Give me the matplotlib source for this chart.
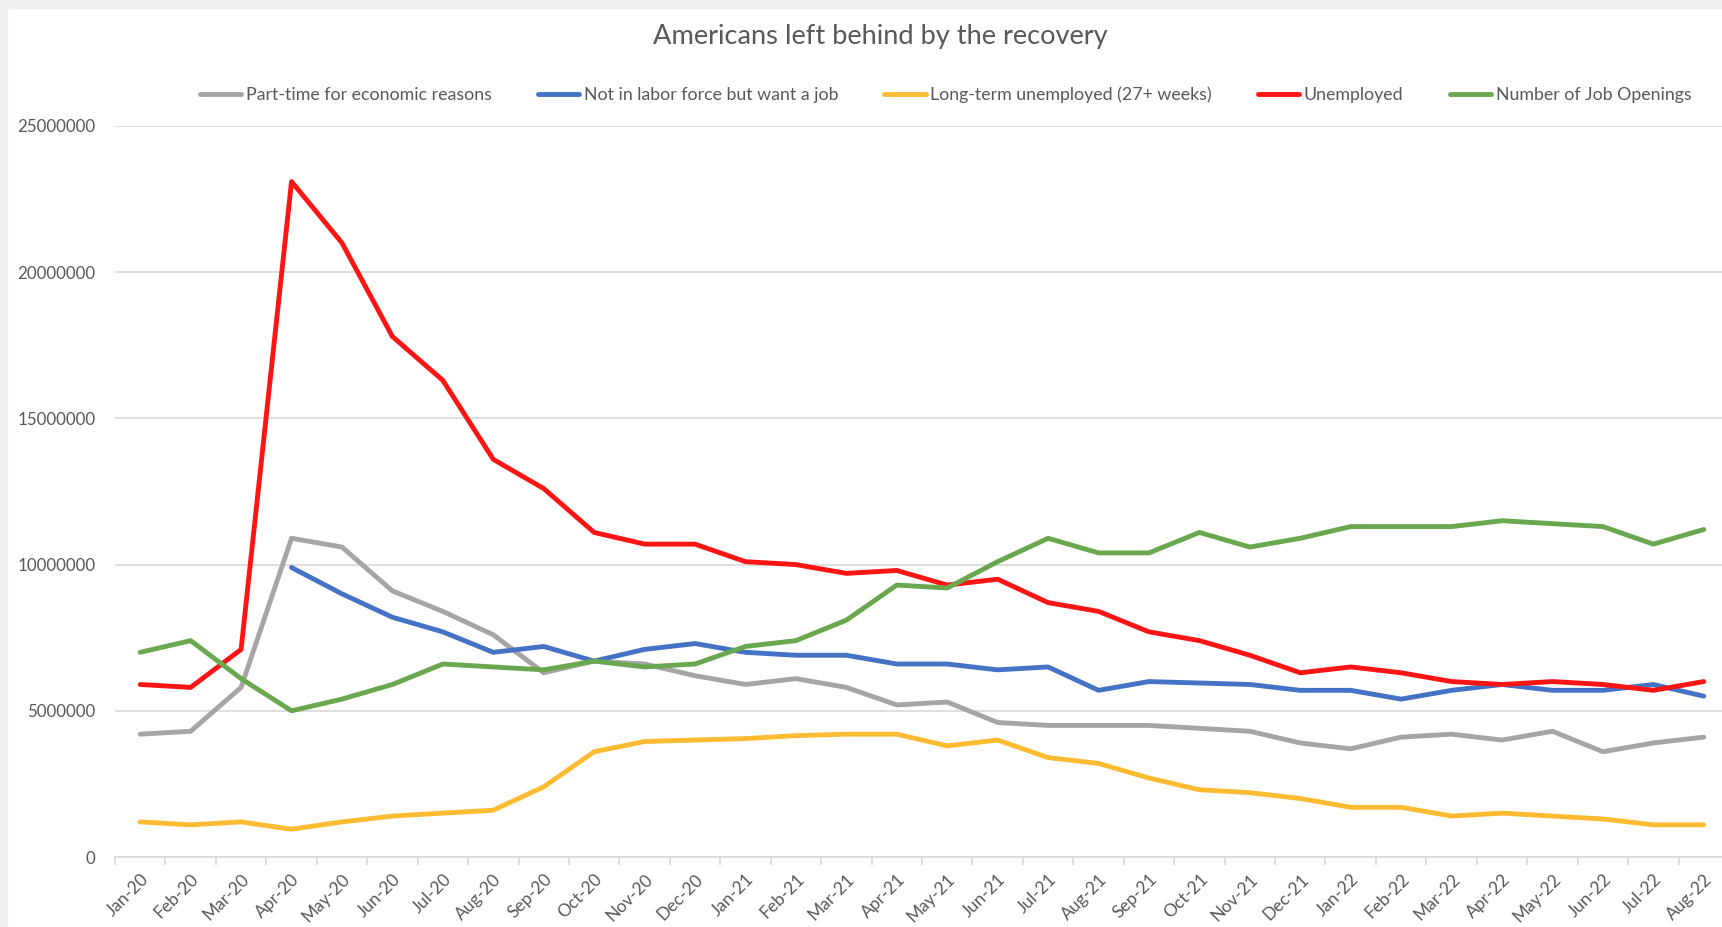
import numpy as np
import matplotlib
matplotlib.use('Agg')
import matplotlib.pyplot as plt
from matplotlib.ticker import FuncFormatter
from matplotlib.patches import Rectangle

plt.rcParams['font.family'] = ['Lato', 'DejaVu Sans']

months = ["Jan-20", "Feb-20", "Mar-20", "Apr-20", "May-20", "Jun-20", "Jul-20", "Aug-20",
          "Sep-20", "Oct-20", "Nov-20", "Dec-20", "Jan-21", "Feb-21", "Mar-21", "Apr-21",
          "May-21", "Jun-21", "Jul-21", "Aug-21", "Sep-21", "Oct-21", "Nov-21", "Dec-21",
          "Jan-22", "Feb-22", "Mar-22", "Apr-22", "May-22", "Jun-22", "Jul-22", "Aug-22"]

part_time = [4200000, 4300000, 5800000, 10900000, 10600000, 9100000, 8400000, 7600000,
             6300000, 6700000, 6600000, 6200000, 5900000, 6100000, 5800000, 5200000,
             5300000, 4600000, 4500000, 4500000, 4500000, 4400000, 4300000, 3900000,
             3700000, 4100000, 4200000, 4000000, 4300000, 3600000, 3900000, 4100000]

# no data before Apr-20
not_in_lf = [np.nan, np.nan, np.nan, 9900000, 9000000, 8200000, 7700000, 7000000,
             7200000, 6700000, 7100000, 7300000, 7000000, 6900000, 6900000, 6600000,
             6600000, 6400000, 6500000, 5700000, 6000000, 5950000, 5900000, 5700000,
             5700000, 5400000, 5700000, 5900000, 5700000, 5700000, 5900000, 5500000]

long_term = [1200000, 1100000, 1200000, 950000, 1200000, 1400000, 1500000, 1600000,
             2400000, 3600000, 3950000, 4000000, 4050000, 4150000, 4200000, 4200000,
             3800000, 4000000, 3400000, 3200000, 2700000, 2300000, 2200000, 2000000,
             1700000, 1700000, 1400000, 1500000, 1400000, 1300000, 1100000, 1100000]

unemployed = [5900000, 5800000, 7100000, 23100000, 21000000, 17800000, 16300000, 13600000,
              12600000, 11100000, 10700000, 10700000, 10100000, 10000000, 9700000, 9800000,
              9300000, 9500000, 8700000, 8400000, 7700000, 7400000, 6900000, 6300000,
              6500000, 6300000, 6000000, 5900000, 6000000, 5900000, 5700000, 6000000]

job_openings = [7000000, 7400000, 6100000, 5000000, 5400000, 5900000, 6600000, 6500000,
                6400000, 6700000, 6500000, 6600000, 7200000, 7400000, 8100000, 9300000,
                9200000, 10100000, 10900000, 10400000, 10400000, 11100000, 10600000, 10900000,
                11300000, 11300000, 11300000, 11500000, 11400000, 11300000, 10700000, 11200000]

series = [
    ("Part-time for economic reasons", part_time, "#A5A5A5"),
    ("Not in labor force but want a job", not_in_lf, "#4472C4"),
    ("Long-term unemployed (27+ weeks)", long_term, "#FFBC33"),
    ("Unemployed", unemployed, "#FF1414"),
    ("Number of Job Openings", job_openings, "#6AA84F"),
]

fig = plt.figure(figsize=(17.22, 9.27), dpi=100)
# grey frame strips at top and left
fig.patches.append(Rectangle((0, 1 - 8/927), 1, 8/927, transform=fig.transFigure,
                             color='#EFEFEF', zorder=0))
fig.patches.append(Rectangle((0, 0), 7/1722, 1, transform=fig.transFigure,
                             color='#EFEFEF', zorder=0))

ax = fig.add_axes([115/1722, 70/927, 1614/1722, 731/927])
x = np.arange(len(months))
for name, vals, col in series:
    ax.plot(x, vals, color=col, lw=3.5, label=name, solid_capstyle='round',
            solid_joinstyle='round')

ax.set_xlim(-0.5, len(months) - 0.5)
ax.set_ylim(0, 25000000)
ax.set_yticks(np.arange(0, 25000001, 5000000))
ax.yaxis.set_major_formatter(FuncFormatter(lambda v, _: "{}".format(int(v))))
ax.grid(axis='y', color='#D9D9D9', lw=1.2)
ax.set_axisbelow(True)
for s in ['top', 'right', 'left']:
    ax.spines[s].set_visible(False)
ax.spines['bottom'].set_color('#D9D9D9')
ax.spines['bottom'].set_linewidth(1.2)

ax.set_xticks(x)
ax.set_xticklabels(months, rotation=45, ha='right', rotation_mode='anchor')
ax.set_xticks(np.arange(-0.5, len(months), 1), minor=True)
ax.tick_params(axis='x', which='major', length=0, pad=10, labelsize=12.5, labelcolor='#595959')
ax.tick_params(axis='x', which='minor', length=6, color='#D9D9D9', width=1.2)
ax.tick_params(axis='y', length=0, pad=14, labelsize=12.2, labelcolor='#595959')

fig.text(0.511, 0.961, "Americans left behind by the recovery", ha='center', va='center',
         fontsize=19.6, color='#595959')

fig.legend(loc='center', bbox_to_anchor=(0.549, 0.898), ncol=5, frameon=False,
           fontsize=12.75, handlelength=2.35, handletextpad=0.25, columnspacing=2.6,
           labelcolor='#595959')

fig.savefig("out.png", dpi=100)
